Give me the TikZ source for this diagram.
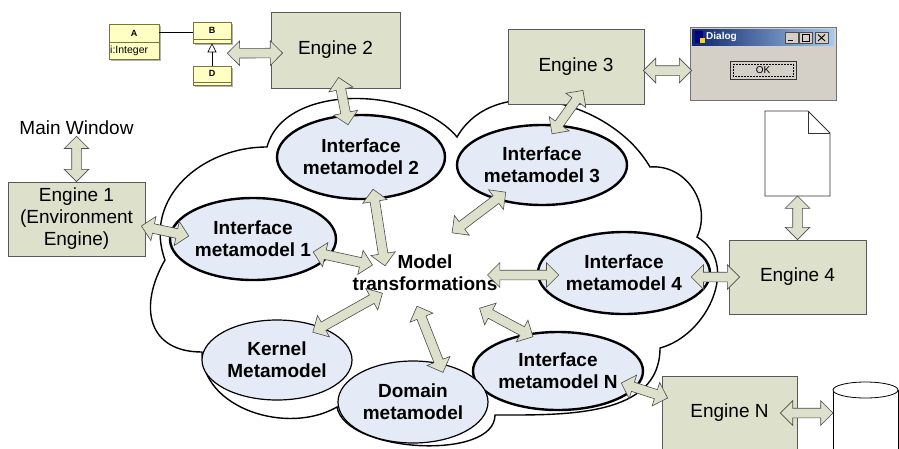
\documentclass[tikz,border=0pt]{standalone}
\usepackage{fontspec}
\setmainfont{Liberation Sans}
\usetikzlibrary{shapes.geometric,shapes.arrows,calc,arrows.meta}

\definecolor{enginefill}{RGB}{221,224,203}
\definecolor{metafill}{RGB}{228,234,246}
\definecolor{classfill}{RGB}{255,255,196}
\definecolor{classline}{RGB}{125,115,60}
\definecolor{winfill}{RGB}{212,208,200}
\definecolor{titledark}{RGB}{10,36,106}
\definecolor{titlelight}{RGB}{166,202,240}

% double block arrow between two points
\newcommand{\dblarrow}[2]{%
  \path let \p1=(#1), \p2=(#2),
    \n1={atan2(\y2-\y1,\x2-\x1)}, \n2={veclen(\x2-\x1,\y2-\y1)} in
    node[link, minimum height=\n2, rotate=\n1] at ($(\p1)!0.5!(\p2)$) {};}

\begin{document}
\begin{tikzpicture}[x=1pt, y=-1pt,
    engine/.style={draw=black!65, fill=enginefill, line width=0.8pt, inner sep=0pt,
      align=center, font=\fontsize{19}{22}\selectfont},
    meta/.style={ellipse, draw, fill=metafill, line width=2.4pt, inner sep=0pt,
      align=center, font=\fontsize{19}{22}\selectfont\bfseries},
    thinmeta/.style={meta, line width=1.2pt},
    link/.style={double arrow, draw=black!70, fill=enginefill, line width=0.6pt,
      inner xsep=0pt, inner ysep=4.5pt, double arrow head extend=7.5pt,
      double arrow tip angle=90},
    umlclass/.style={draw=classline, fill=classfill, line width=0.6pt, inner sep=0pt}]

    \useasboundingbox (0,0) rectangle (899,448);

    % cloud
    \draw[line width=1.4pt, fill=white] (165,260)
        to[out=110,in=180,looseness=1.1] (267,147)
        to[out=75,in=130,looseness=0.9] (457,137)
        to[out=60,in=120] (650,167)
        to[out=5,in=65,looseness=1.1] (697,237)
        to[out=-30,in=15,looseness=1.1] (660,348)
        to[out=-90,in=0] (495,415)
        to[out=-90,in=-80,looseness=0.75] (337,407)
        to[out=-150,in=-90] (202,352)
        to[out=180,in=-120,looseness=1.4] (165,260) -- cycle;

    % metamodels
    \node[meta, minimum width=166pt, minimum height=82pt] (im1) at (253,239) {Interface\\metamodel 1};
    \node[meta, minimum width=168pt, minimum height=84pt] (im2) at (361,157) {Interface\\metamodel 2};
    \node[meta, minimum width=170pt, minimum height=80pt] (im3) at (542,165) {Interface\\metamodel 3};
    \node[meta, minimum width=172pt, minimum height=82pt] (im4) at (624,273) {Interface\\metamodel 4};
    \node[meta, minimum width=170pt, minimum height=78pt] (imN) at (558,371) {Interface\\metamodel N};
    \node[thinmeta, minimum width=150pt, minimum height=80pt] (kernel) at (277,360) {Kernel\\Metamodel};
    \node[thinmeta, minimum width=150pt, minimum height=82pt] (domain) at (413,402) {Domain\\metamodel};
    \node[inner sep=0pt, align=center, font=\fontsize{19}{22}\selectfont\bfseries] (trans) at (425,273) {Model\\transformations};

    % engines
    \node[font=\fontsize{19}{22}\selectfont, inner sep=1pt] (mainwin) at (76.5,128) {Main Window};
    \node[engine, minimum width=137pt, minimum height=74pt] (eng1) at (76.5,219) {Engine 1\\(Environment\\Engine)};
    \node[engine, minimum width=129pt, minimum height=76pt] (eng2) at (335.5,50) {Engine 2};
    \node[engine, minimum width=136pt, minimum height=75pt] (eng3) at (576,66.5) {Engine 3};
    \node[engine, minimum width=137pt, minimum height=74pt] (eng4) at (797.5,277) {Engine 4};
    \node[engine, minimum width=135pt, minimum height=74pt] (engN) at (729.5,413) {Engine N};

    % class diagram
    \fill[black!30] (110.5,25.5) rectangle (160.5,60.5);
    \node[umlclass, minimum width=50pt, minimum height=35pt] (clsA) at (134,41.5) {};
    \draw[classline, line width=0.6pt] (109,42) -- (159,42);
    \node[font=\fontsize{9}{10}\selectfont\bfseries] at (134,33) {A};
    \node[anchor=west, inner sep=1pt, font=\fontsize{10.5}{11}\selectfont] at (109,50.5) {i:Integer};
    \fill[black!30] (194.5,23.5) rectangle (232.5,44.5);
    \node[umlclass, minimum width=38pt, minimum height=21pt] (clsB) at (212,32.5) {};
    \draw[classline, line width=0.9pt] (193,39) -- (231,39);
    \node[font=\fontsize{9}{10}\selectfont\bfseries] at (212,30.5) {B};
    \fill[black!30] (194.5,67.5) rectangle (232.5,86.5);
    \node[umlclass, minimum width=38pt, minimum height=19pt] (clsD) at (212,75.5) {};
    \draw[classline, line width=0.9pt] (193,82) -- (231,82);
    \node[font=\fontsize{9}{10}\selectfont\bfseries] at (212,73.5) {D};
    \draw[line width=0.6pt] (clsA.east |- clsB.west) -- (clsB.west);
    \draw[line width=0.6pt, -{Triangle[open, length=9pt, width=9pt]}] (clsD.north) -- (clsB.south);

    % dialog window
    \node[draw=black!55, fill=winfill, line width=0.8pt, minimum width=146pt, minimum height=73pt, inner sep=0pt] (dialog) at (763,63.5) {};
    \shade[left color=titledark, right color=titlelight] (692,29) rectangle (834,45);
    \fill[blue!50!black] (695,31) rectangle (703,43);
    \fill[yellow!70!orange] (700,38) rectangle (705,43);
    \node[anchor=west, inner sep=0pt, text=white, font=\fontsize{10}{11}\selectfont\bfseries] at (706,37) {Dialog};
    \foreach \bx in {785,799,815}
        \draw[fill=winfill, draw=black!70, line width=0.5pt] (\bx,32) rectangle +(13,11);
    \draw[line width=1pt] (788,40.5) -- (793,40.5);
    \draw[line width=0.6pt] (802,34.5) rectangle (809,41);
    \draw[line width=0.9pt] (818,34.5) -- (825,41) (818,41) -- (825,34.5);
    \node[draw=black!80, line width=1pt, fill=winfill, minimum width=66pt, minimum height=18pt, inner sep=0pt,
        font=\fontsize{10}{11}\selectfont] (okbtn) at (763,70) {OK};
    \draw[densely dotted, line width=0.5pt] (733,64) rectangle (793,76);

    % document
    \draw[fill=white, draw=black!80, line width=0.8pt] (765,111) -- (808,111) -- (830,133) -- (830,196) -- (765,196) -- cycle;
    \draw[draw=black!80, line width=0.8pt] (808,111) -- (808,133) -- (830,133);
    \coordinate (doc) at (797.5,196);

    % database
    \fill[white] (833,390) rectangle (898,460);
    \draw[line width=0.8pt] (833,390) -- (833,460) (898,390) -- (898,460);
    \draw[fill=white, line width=0.8pt] (865.5,390) ellipse [x radius=32.5pt, y radius=8pt];
    \coordinate (db) at (833,413);

    % links
    \dblarrow{mainwin.south}{eng1.north}
    \dblarrow{$(clsB.south east)+(-4,10)$}{$(eng2.west)+(12,3)$}
    \dblarrow{$(eng2.south)+(3,-11)$}{$(im2.north)+(-13,11)$}
    \dblarrow{$(eng3.south)+(7,-14)$}{$(im3.north)+(10,10)$}
    \dblarrow{$(eng3.east)+(-1,4)$}{$(eng3.east -| dialog.west)+(2,4)$}
    \dblarrow{doc}{eng4.north}
    \dblarrow{$(eng1.east)+(-4,7)$}{$(im1.west)+(20,-3)$}
    \dblarrow{$(im1.east)+(-24,13)$}{$(trans.west)+(20,-8)$}
    \dblarrow{$(im2.south)+(12,-11)$}{$(trans.north)+(-40,11)$}
    \dblarrow{$(im3.225)+(1,-10)$}{$(trans.north)+(27,-22)$}
    \dblarrow{$(trans.east)+(-10,2)$}{$(im4.west)+(22,2)$}
    \dblarrow{$(im4.east)+(-20,4)$}{$(eng4.west)+(11,0)$}
    \dblarrow{$(trans.south east)+(-18,17)$}{$(imN.north)+(-25,6)$}
    \dblarrow{$(trans.south)+(-8,15)$}{$(domain.north)+(30,12)$}
    \dblarrow{$(trans.south west)+(30,2)$}{$(kernel.45)+(0,8)$}
    \dblarrow{$(imN.east)+(-23,12)$}{$(engN.west)+(6,-15)$}
    \dblarrow{$(engN.east)+(-17,0)$}{db}
\end{tikzpicture}
\end{document}
